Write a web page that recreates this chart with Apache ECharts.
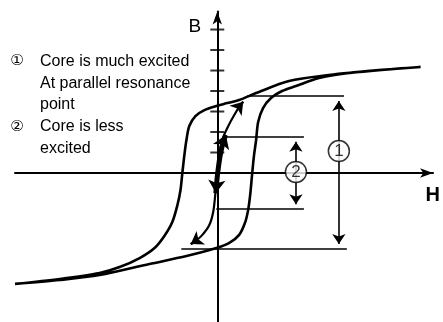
<!DOCTYPE html>
<html>
<head>
<meta charset="utf-8">
<script src="https://cdn.jsdelivr.net/npm/echarts@6/dist/echarts.min.js"></script>
<style>
  html, body { margin: 0; padding: 0; background: #fff; }
  #chart { width: 443px; height: 322px; }
</style>
</head>
<body>
<div id="chart"></div>
<script>
// B-H curve of a core, in units of one B tick (H uses the same unit length).

// Major hysteresis loop: falling branch (from +saturation to -saturation)
const loopFalling = [
  [9.95, 5.17], [7.90, 5.02], [5.46, 4.78], [3.51, 4.49], [1.90, 3.90],
  [1.07, 3.56], [0.49, 3.41], [-0.05, 3.27], [-0.63, 3.07], [-1.07, 2.78],
  [-1.37, 2.29], [-1.51, 1.61], [-1.61, 0.88], [-1.71, 0.00], [-1.80, -0.83],
  [-1.95, -1.56], [-2.20, -2.39], [-2.59, -3.07], [-3.07, -3.66], [-3.80, -4.15],
  [-4.78, -4.59], [-5.76, -4.88], [-7.71, -5.17], [-9.90, -5.41]
];
// Major hysteresis loop: rising branch (from -saturation back to +saturation)
const loopRising = [
  [-9.90, -5.41], [-7.71, -5.22], [-5.76, -4.98], [-3.32, -4.44], [-1.51, -4.05],
  [-0.05, -3.66], [0.59, -3.41], [1.07, -3.02], [1.37, -2.39], [1.51, -1.80],
  [1.61, -1.07], [1.71, 0.00], [1.80, 0.88], [1.90, 1.61], [2.00, 2.49],
  [2.24, 3.17], [2.63, 3.66], [3.17, 4.00], [3.85, 4.24], [4.98, 4.63],
  [6.44, 4.88], [7.90, 5.02], [9.95, 5.17]
];
// Minor excursion at the parallel resonance point (thin path)
const minorPath = [
  [-1.30, -3.47], [-1.12, -3.37], [-0.73, -3.02], [-0.39, -2.54], [-0.20, -1.90],
  [-0.10, -1.07], [0.00, 0.00], [0.10, 0.88], [0.24, 1.61], [0.49, 2.20],
  [0.83, 2.83], [1.17, 3.37], [1.27, 3.48]
];
// Smaller excursion when the core is less excited (heavy stroke)
const smallPath = [
  [0.42, 1.85], [0.30, 1.55], [0.15, 0.90], [0.02, 0.00], [-0.04, -0.60], [-0.07, -0.98]
];
// Arrowheads along the excursions: [from H, from B, to H, to B]
const pathArrows = [
  [1.05, 3.22, 1.27, 3.48],
  [-1.00, -3.28, -1.30, -3.47],
  [0.30, 1.55, 0.42, 1.85],
  [-0.04, -0.60, -0.07, -0.98]
];
// Amplitude marker lines: [B level, H start, H end]
const levelLines = [
  [3.75, 1.46, 6.20],
  [-3.71, -1.76, 6.34],
  [1.76, 0.49, 4.24],
  [-1.76, -0.05, 4.24]
];
// Double-headed dimension arrows: [H position, B top, B bottom]
const dimArrows = [
  [5.95, 3.51, -3.47],
  [3.85, 1.53, -1.53]
];
// Circled markers on the dimension arrows: [H, B, number]
const markers = [
  [5.95, 1.07, '1'],
  [3.85, 0.05, '2']
];
// Tick positions on the B axis
const bTicks = [1, 2, 3, 4, 5, 6, 7];
// Legend text lines
const noteLines = [
  ['\u2460', 'Core is much excited'],
  ['', 'At parallel resonance'],
  ['', 'point'],
  ['\u2461', 'Core is less'],
  ['', 'excited']
];

const chart = echarts.init(document.getElementById('chart'), null, { renderer: 'canvas' });

const FONT = '"Liberation Sans", Arial, sans-serif';
const noteTop = 61.5, noteStep = 21.75;
const graphics = [];
noteLines.forEach(function (ln, i) {
  const y = noteTop + i * noteStep;
  if (ln[0]) {
    graphics.push({
      type: 'text', x: 17, y: y,
      style: { text: ln[0], fontSize: 15, fontFamily: '"DejaVu Sans", "Noto Sans CJK JP", sans-serif',
        fill: '#000', align: 'center', verticalAlign: 'middle' }
    });
  }
  graphics.push({
    type: 'text', x: 40, y: y,
    style: { text: ln[1], fontSize: 16, fontFamily: FONT, fill: '#000',
      align: 'left', verticalAlign: 'middle' }
  });
});

const axisLineStyle = { color: '#000', width: 2 };

chart.setOption({
  animation: false,
  backgroundColor: '#fff',
  grid: { left: 15, right: 8.5, top: 11.5, bottom: 0, containLabel: false },
  xAxis: {
    type: 'value', min: -9.9, max: 10.56,
    axisLine: { onZero: true, lineStyle: axisLineStyle, symbol: ['none', 'arrow'], symbolSize: [7, 13] },
    axisTick: { show: false }, axisLabel: { show: false }, splitLine: { show: false },
    name: 'H', nameLocation: 'end', nameGap: -7.5,
    nameTextStyle: { fontSize: 20, fontWeight: 'bold', fontFamily: FONT, color: '#000',
      align: 'left', verticalAlign: 'top', padding: [12, 0, 0, 0] }
  },
  yAxis: {
    type: 'value', min: -7.27, max: 7.88,
    axisLine: { onZero: true, lineStyle: axisLineStyle, symbol: ['none', 'arrow'], symbolSize: [7, 13] },
    axisTick: { show: false }, axisLabel: { show: false }, splitLine: { show: false },
    name: 'B', nameLocation: 'end', nameGap: -15.5,
    nameTextStyle: { fontSize: 19, fontWeight: 'lighter', fontFamily: FONT, color: '#000',
      align: 'right', verticalAlign: 'middle', padding: [0, 16, 0, 0] }
  },
  graphic: graphics,
  series: [
    {
      name: 'major loop', type: 'line', data: loopFalling.concat(loopRising.slice(1)),
      smooth: 0.3, showSymbol: false, z: 3,
      lineStyle: { color: '#000', width: 2.6 }
    },
    {
      name: 'B ticks', type: 'scatter', data: bTicks.map(function (b) { return [0, b]; }),
      symbol: 'rect', symbolSize: [14, 2], itemStyle: { color: '#000' }, z: 4
    },
    {
      name: 'level lines', type: 'lines', coordinateSystem: 'cartesian2d', z: 2,
      data: levelLines.map(function (l) { return { coords: [[l[1], l[0]], [l[2], l[0]]] }; }),
      symbol: ['none', 'none'], lineStyle: { color: '#000', width: 1.5, opacity: 1 }
    },
    {
      name: 'dimension arrows', type: 'lines', coordinateSystem: 'cartesian2d', z: 2,
      data: dimArrows.map(function (d) { return { coords: [[d[0], d[1]], [d[0], d[2]]] }; }),
      symbol: ['arrow', 'arrow'], symbolSize: 10,
      lineStyle: { color: '#000', width: 1.6, opacity: 1 }
    },
    {
      name: 'minor path', type: 'line', data: minorPath, smooth: 0.3, showSymbol: false, z: 4,
      lineStyle: { color: '#000', width: 2.2 }
    },
    {
      name: 'small path', type: 'line', data: smallPath, smooth: 0.3, showSymbol: false, z: 5,
      lineStyle: { color: '#000', width: 5 }
    },
    {
      name: 'path arrows', type: 'lines', coordinateSystem: 'cartesian2d', z: 5,
      data: pathArrows.map(function (a, i) {
        return { coords: [[a[0], a[1]], [a[2], a[3]]], symbolSize: i < 2 ? 12 : 13 };
      }),
      symbol: ['none', 'arrow'], symbolSize: 12,
      lineStyle: { color: '#000', width: 2.2, opacity: 1 }
    },
    {
      name: 'markers', type: 'scatter', z: 6,
      data: markers.map(function (m) { return { value: [m[0], m[1]], name: m[2] }; }),
      symbol: 'circle', symbolSize: 21,
      itemStyle: { color: '#fff', borderColor: '#000', borderWidth: 1.5 },
      label: { show: true, position: 'inside', formatter: '{b}', fontSize: 17,
        fontFamily: FONT, color: '#000' }
    }
  ]
});
</script>
</body>
</html>
